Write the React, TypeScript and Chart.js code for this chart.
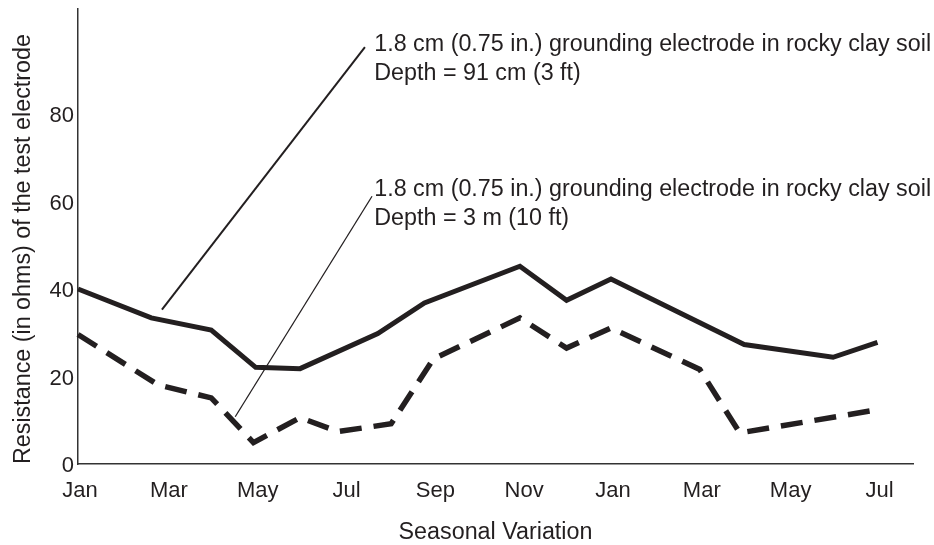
import React, { useEffect, useRef } from 'react';
import { Chart, registerables } from 'chart.js';

Chart.register(...registerables);

// ---- data ----
const tickMonthLabels = ['Jan', 'Mar', 'May', 'Jul', 'Sep', 'Nov', 'Jan', 'Mar', 'May', 'Jul'];
const xTickValues = [0, 2, 4, 6, 8, 10, 12, 14, 16, 18];
const yTickValues = [0, 20, 40, 60, 80];

// month index (0 = first Jan) and resistance in ohms
const shallowMonths = [0, 1.65, 3, 4, 5, 6.75, 7.8, 9.95, 11, 12, 15, 17, 18];
const shallowOhms = [40.0, 33.4, 30.6, 22.1, 21.8, 29.8, 36.8, 45.2, 37.4, 42.3, 27.3, 24.4, 27.8];

const deepMonths = [0, 1.8, 3, 3.95, 5, 5.85, 7.05, 8, 9.95, 11, 12, 14, 14.9, 18];
const deepOhms = [29.6, 18.1, 15.1, 4.9, 10.6, 7.4, 9.2, 24.0, 33.4, 26.5, 31.1, 21.6, 7.1, 12.4];

const noteShallow = ['1.8 cm (0.75 in.) grounding electrode in rocky clay soil', 'Depth = 91 cm (3 ft)'];
const noteDeep = ['1.8 cm (0.75 in.) grounding electrode in rocky clay soil', 'Depth = 3 m (10 ft)'];
const noteX = 6.67;
const noteShallowY = [95.8, 89.3];
const noteDeepY = [62.7, 56.1];
const shallowLeader = [[1.89, 35.3], [6.46, 95.3]];
const deepLeader = [[3.54, 10.8], [6.62, 61.2]];

const xLabel = 'Seasonal Variation';
const yLabel = 'Resistance (in ohms) of the test electrode';

const INK = '#231f20';
const FONT = '"Liberation Sans", Arial, Helvetica, sans-serif';

const notesPlugin = {
  id: 'notes',
  afterDatasetsDraw(chart: any) {
    const { ctx, scales } = chart;
    const x = scales.x;
    const y = scales.y;
    ctx.save();
    ctx.strokeStyle = INK;
    ctx.lineCap = 'butt';
    const leader = (pts: number[][], w: number) => {
      ctx.lineWidth = w;
      ctx.beginPath();
      ctx.moveTo(x.getPixelForValue(pts[0][0]), y.getPixelForValue(pts[0][1]));
      ctx.lineTo(x.getPixelForValue(pts[1][0]), y.getPixelForValue(pts[1][1]));
      ctx.stroke();
    };
    leader(shallowLeader, 2);
    leader(deepLeader, 1.3);
    ctx.fillStyle = INK;
    ctx.font = `23.3px ${FONT}`;
    ctx.textAlign = 'left';
    ctx.textBaseline = 'middle';
    noteShallow.forEach((t, i) => ctx.fillText(t, x.getPixelForValue(noteX), y.getPixelForValue(noteShallowY[i])));
    noteDeep.forEach((t, i) => ctx.fillText(t, x.getPixelForValue(noteX), y.getPixelForValue(noteDeepY[i])));
    ctx.restore();
  },
};

export default function App() {
  const ref = useRef<HTMLCanvasElement>(null);
  useEffect(() => {
    if (!ref.current) return;
    const chart = new Chart(ref.current, {
      type: 'line',
      data: {
        datasets: [
          {
            label: '91 cm',
            data: shallowMonths.map((m, i) => ({ x: m, y: shallowOhms[i] })),
            borderColor: INK,
            borderWidth: 5,
            pointRadius: 0,
            tension: 0,
            fill: false,
            borderJoinStyle: 'miter',
            clip: false,
          },
          {
            label: '3 m',
            data: deepMonths.map((m, i) => ({ x: m, y: deepOhms[i] })),
            borderColor: INK,
            borderWidth: 5.5,
            borderDash: [22, 12],
            pointRadius: 0,
            tension: 0,
            fill: false,
            borderJoinStyle: 'miter',
            clip: false,
          },
        ],
      },
      options: {
        responsive: false,
        animation: false,
        events: [],
        layout: { padding: { left: 0, top: 9, right: 21, bottom: 0 } },
        plugins: { legend: { display: false }, tooltip: { enabled: false } },
        scales: {
          x: {
            type: 'linear',
            min: 0,
            max: 18.8,
            afterBuildTicks: (s: any) => {
              s.ticks = xTickValues.map((v) => ({ value: v }));
            },
            afterFit: (s: any) => {
              s.height = 81;
              s.paddingLeft = 0;
              s.paddingRight = 0;
            },
            grid: { display: false, drawTicks: false },
            border: { display: true, color: '#333', width: 1.5 },
            ticks: {
              color: INK,
              font: { family: FONT, size: 22 },
              padding: 14,
              labelOffset: 2,
              maxRotation: 0,
              autoSkip: false,
              callback: (v: any) => tickMonthLabels[xTickValues.indexOf(Number(v))] ?? '',
            },
            title: {
              display: true,
              text: xLabel,
              color: INK,
              font: { family: FONT, size: 23.3 },
              padding: { top: 0, bottom: -2 },
            },
          },
          y: {
            type: 'linear',
            min: 0,
            max: 104,
            afterBuildTicks: (s: any) => {
              s.ticks = yTickValues.map((v) => ({ value: v }));
            },
            afterFit: (s: any) => {
              s.width = 78;
              s.paddingTop = 0;
              s.paddingBottom = 0;
            },
            grid: { display: false, drawTicks: false },
            border: { display: true, color: '#333', width: 1.5 },
            ticks: {
              color: INK,
              font: { family: FONT, size: 22 },
              padding: 4,
              labelOffset: 2,
              autoSkip: false,
            },
            title: {
              display: true,
              text: yLabel,
              align: 'start',
              color: INK,
              font: { family: FONT, size: 23.3 },
              padding: { top: 10, bottom: 0 },
            },
          },
        },
      },
      plugins: [notesPlugin],
    } as any);
    return () => chart.destroy();
  }, []);
  return (
    <div style={{ position: 'absolute', left: 0, top: 0, width: 934, height: 545, background: '#fff' }}>
      <canvas ref={ref} width={934} height={545} style={{ display: 'block' }} />
    </div>
  );
}
